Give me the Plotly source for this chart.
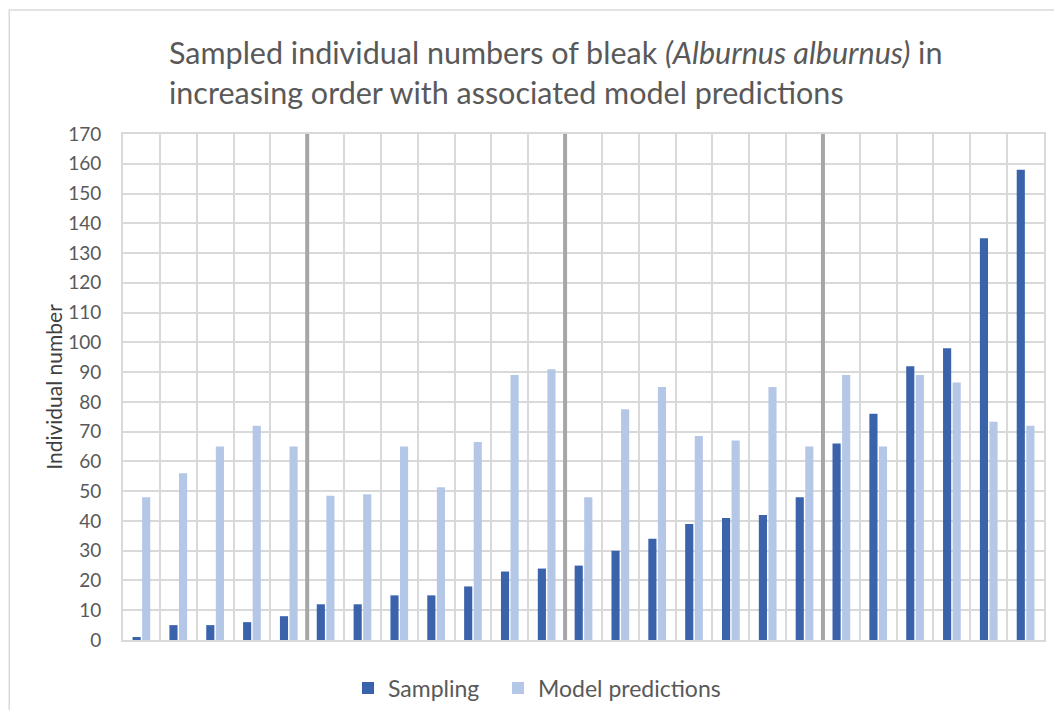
import plotly.graph_objects as go

# ---- data ----
categories = [str(i) for i in range(1, 26)]
sampling = [1, 5, 5, 6, 8,
            12, 12, 15, 15, 18, 23, 24,
            25, 30, 34, 39, 41, 42, 48,
            66, 76, 92, 98, 135, 158]
model_predictions = [48, 56, 65, 72, 65,
                     48.5, 49, 65, 51.3, 66.5, 89, 91,
                     48, 77.5, 85, 68.5, 67, 85, 65,
                     89, 65, 89, 86.5, 73.3, 72]
group_sizes = [5, 7, 7, 6]
y_ticks = list(range(0, 171, 10))

FONT = "Lato"
TEXT = "#595959"

# page has an 8px body margin; figure is sized so the page is 1062x718
W, H = 1046, 702
OFF = 8

fig = go.Figure()
fig.add_trace(go.Bar(name="Sampling", x=categories, y=sampling, legend="legend",
                     showlegend=True,
                     marker=dict(color="#3B63AC", line=dict(width=0))))
fig.add_trace(go.Bar(name="Model predictions", x=categories, y=model_predictions,
                     legend="legend2", showlegend=True,
                     marker=dict(color="#B4C7E7", line=dict(width=0))))

# thick separators between groups
shapes = []
pos = -0.5
for s in group_sizes[:-1]:
    pos += s
    shapes.append(dict(type="line", xref="x", yref="y", x0=pos, x1=pos,
                       y0=0, y1=170, line=dict(color="#A6A6A6", width=4), layer="above"))
# outer chart frame
shapes.append(dict(type="rect", xref="paper", yref="paper",
                   x0=(9 - 123) / 923, x1=(1075 - 123) / 923,
                   y0=(640 - 730) / 506, y1=(640 - 10) / 506,
                   line=dict(color="#D9D9D9", width=1.5), layer="below"))


def cx(px):
    return (px - OFF) / W


def cy(py):
    return 1 - (py - OFF) / H


legend_style = dict(orientation="h", xanchor="left", xref="container",
                    y=cy(688), yanchor="middle", yref="container",
                    font=dict(family=FONT, size=23, color=TEXT),
                    itemwidth=30, bgcolor="rgba(0,0,0,0)", visible=True)

fig.update_layout(
    width=W, height=H,
    showlegend=True,
    paper_bgcolor="white", plot_bgcolor="white",
    margin=dict(l=123 - OFF, r=W - (1046 - OFF), t=134 - OFF, b=H - (640 - OFF)),
    barmode="group", bargap=0.48, bargroupgap=0.15,
    font=dict(family=FONT, color=TEXT),
    title=dict(
        text="Sampled individual numbers of bleak <i>(Alburnus alburnus)</i> in<br>increasing order with associated model predictions",
        x=cx(169), xanchor="left", xref="container",
        y=cy(64), yanchor="middle", yref="container",
        font=dict(family=FONT, size=30.5, color=TEXT)),
    legend=dict(x=cx(348), **legend_style),
    legend2=dict(x=cx(498), **legend_style),
    shapes=shapes,
)
fig.update_xaxes(type="category", tickson="boundaries", showticklabels=False,
                 showgrid=True, gridcolor="#D9D9D9", gridwidth=2,
                 showline=True, linecolor="#D9D9D9", linewidth=2, mirror=True,
                 ticks="")
fig.update_yaxes(range=[0, 170], tickvals=y_ticks, showgrid=True,
                 gridcolor="#D9D9D9", gridwidth=2, zeroline=False,
                 showline=True, linecolor="#D9D9D9", linewidth=2, mirror=True,
                 tickfont=dict(family=FONT, size=19, color=TEXT),
                 ticklabelstandoff=16,
                 title=dict(text="Individual number", standoff=0,
                            font=dict(family=FONT, size=21, color="#404040")))

fig.write_html("out.html")
